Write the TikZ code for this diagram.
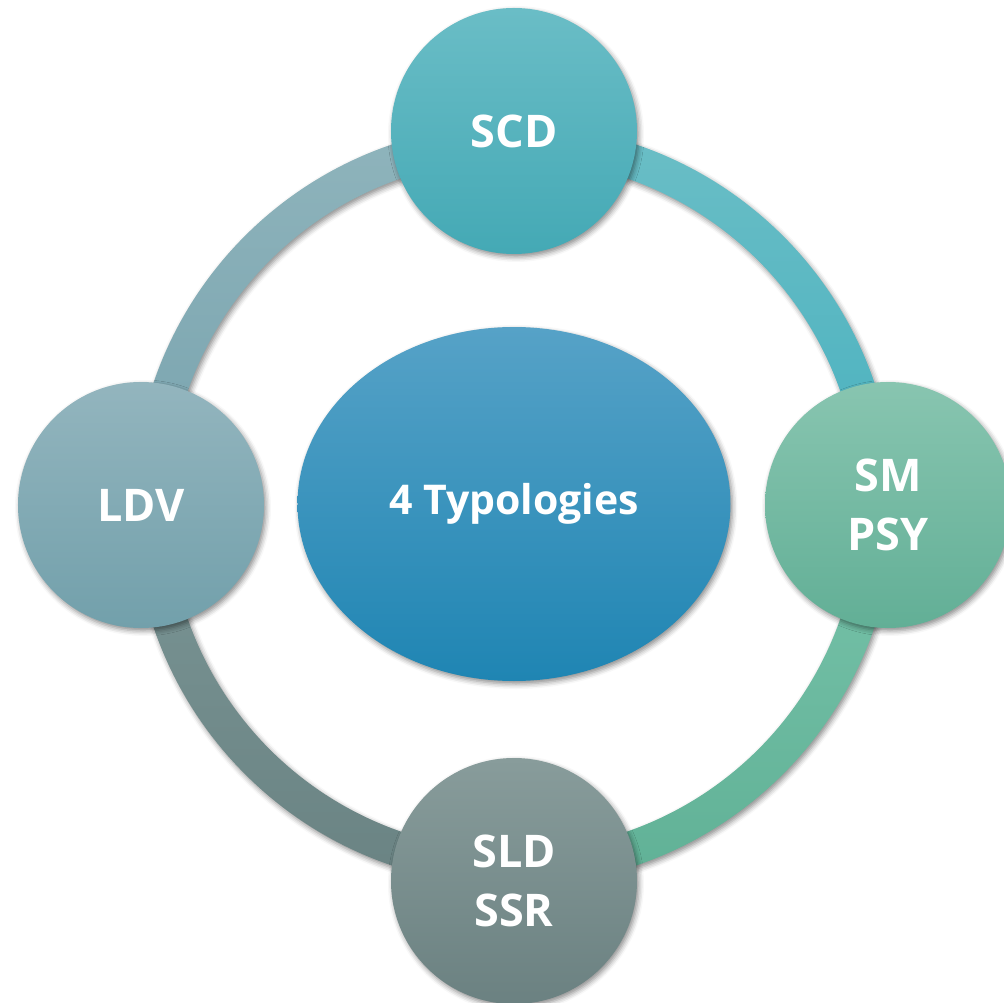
\documentclass[tikz,border=0pt]{standalone}
\usepackage{fontspec}
\setmainfont{Open Sans}
\usetikzlibrary{shapes.geometric,shadows.blur}
\definecolor{scdT}{HTML}{6ABDC6}\definecolor{scdB}{HTML}{44A9B5}
\definecolor{smT}{HTML}{88C5B0}\definecolor{smB}{HTML}{62AF96}
\definecolor{ldvT}{HTML}{93B5BE}\definecolor{ldvB}{HTML}{72A0AB}
\definecolor{sldT}{HTML}{889C9B}\definecolor{sldB}{HTML}{6B8181}
\definecolor{ctrT}{HTML}{56A2C7}\definecolor{ctrB}{HTML}{1F85B3}
\definecolor{tlT}{HTML}{8FB4BC}\definecolor{tlB}{HTML}{78A3AE}
\definecolor{trT}{HTML}{6BBEC6}\definecolor{trB}{HTML}{48B1BF}
\definecolor{brT}{HTML}{78C3AA}\definecolor{brB}{HTML}{60B196}
\definecolor{blT}{HTML}{7A9595}\definecolor{blB}{HTML}{6A8383}
\tikzset{
  softshadow/.style={blur shadow={shadow xshift=2pt, shadow yshift=-3pt, shadow blur radius=5pt, shadow opacity=45}},
  bubble/.style={circle, minimum size=246pt, inner sep=0pt, draw=none, softshadow,
    text=white, align=center, font=\bfseries\fontsize{45}{59}\selectfont},
  hub/.style={ellipse, minimum width=433pt, minimum height=354pt, inner sep=0pt, draw=none, softshadow,
    top color=ctrT, bottom color=ctrB, text=white, font=\bfseries\fontsize{41}{56}\selectfont},
  ringseg/.style={softshadow}
}
\begin{document}
\begin{tikzpicture}[x=1pt,y=1pt]
\useasboundingbox (-514,-497) rectangle (490,505);
\coordinate (o) at (0,0);
% ring segments
\shade[ringseg, top color=trT, bottom color=trB]
  (0:380.5pt) arc[start angle=0, end angle=90, radius=380.5pt] -- (90:345.5pt) arc[start angle=90, end angle=0, radius=345.5pt] -- cycle;
\shade[ringseg, top color=tlT, bottom color=tlB]
  (90:380.5pt) arc[start angle=90, end angle=180, radius=380.5pt] -- (180:345.5pt) arc[start angle=180, end angle=90, radius=345.5pt] -- cycle;
\shade[ringseg, top color=blT, bottom color=blB]
  (180:380.5pt) arc[start angle=180, end angle=270, radius=380.5pt] -- (270:345.5pt) arc[start angle=270, end angle=180, radius=345.5pt] -- cycle;
\shade[ringseg, top color=brT, bottom color=brB]
  (270:380.5pt) arc[start angle=270, end angle=360, radius=380.5pt] -- (0:345.5pt) arc[start angle=360, end angle=270, radius=345.5pt] -- cycle;
% nodes
\node[hub] (ctr) at (0,1) {4 Typologies};
\node[bubble, top color=scdT, bottom color=scdB] (scd) at (0,374) {SCD};
\node[bubble, top color=smT, bottom color=smB] (sm) at (374,0) {SM\\PSY};
\node[bubble, top color=ldvT, bottom color=ldvB] (ldv) at (-373,0) {LDV};
\node[bubble, top color=sldT, bottom color=sldB] (sld) at (0,-376) {SLD\\SSR};
\end{tikzpicture}
\end{document}
